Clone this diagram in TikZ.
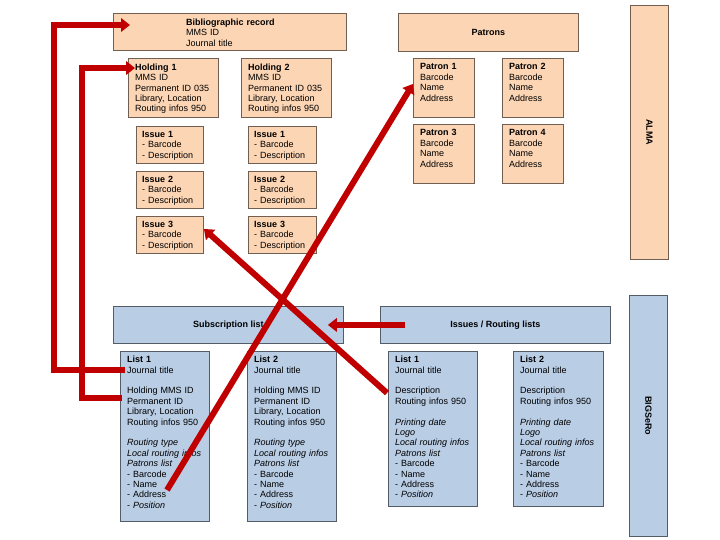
\documentclass[tikz,border=0pt]{standalone}
\usepackage{fontspec}
\setmainfont{Liberation Sans}
\usepackage{xcolor}
\definecolor{almafill}{RGB}{252,213,180}
\definecolor{bigfill}{RGB}{185,205,229}
\definecolor{arrred}{RGB}{192,0,0}
\usepackage{tikz}
\usetikzlibrary{arrows.meta, positioning}

\begin{document}
\begin{tikzpicture}[x=1pt, y=-1pt,
  pbox/.style={rectangle, draw=#1!45!black, fill=#1, line width=0.9pt,
               inner sep=0pt, anchor=north west},
  txt/.style={anchor=north west, align=left, inner sep=0pt, text width=#1,
              font=\fontsize{9pt}{10.4pt}\selectfont},
  txt/.default=80pt,
  ttl/.style={font=\fontsize{9pt}{10.4pt}\selectfont\bfseries, inner sep=0pt},
  redarr/.style={draw=arrred, line width=6pt, -{Triangle[length=9pt,width=13.5pt]}}
]
\useasboundingbox (0,0) rectangle (720,540);

% ALMA side
\node[pbox=almafill, minimum width=233pt, minimum height=37pt] (bib) at (113,13) {};
\node[txt=150pt] (bibt) at ([shift={(73pt,-5.5pt)}]bib.north west) {\textbf{Bibliographic record}\\MMS ID\\Journal title};
\node[pbox=almafill, minimum width=180pt, minimum height=38pt] (pat) at (398,13) {};
\node[ttl] (patt) at (pat.center) {Patrons};
\node[pbox=almafill, minimum width=38pt, minimum height=254pt] (alma) at (630,5) {};
\node[ttl, rotate=-90] (almat) at (alma.center) {ALMA};

% Holdings
\node[pbox=almafill, minimum width=90pt, minimum height=59pt] (h1) at (128,58) {};
\node[txt] (h1t) at ([shift={(7pt,-5.5pt)}]h1.north west) {\textbf{Holding 1}\\MMS ID\\Permanent ID 035\\Library, Location\\Routing infos 950};
\node[pbox=almafill, minimum width=90pt, minimum height=59pt] (h2) at (241,58) {};
\node[txt] (h2t) at ([shift={(7pt,-5.5pt)}]h2.north west) {\textbf{Holding 2}\\MMS ID\\Permanent ID 035\\Library, Location\\Routing infos 950};

% Issues
\foreach \n/\y in {1/126, 2/171, 3/216} {
  \node[pbox=almafill, minimum width=67pt, minimum height=37pt] (il\n) at (136,\y) {};
  \node[txt=62pt] (il\n t) at ([shift={(6pt,-5pt)}]il\n.north west) {\textbf{Issue \n}\\- Barcode\\- Description};
  \node[pbox=almafill, minimum width=68pt, minimum height=37pt] (ir\n) at (248,\y) {};
  \node[txt=62pt] (ir\n t) at ([shift={(6pt,-5pt)}]ir\n.north west) {\textbf{Issue \n}\\- Barcode\\- Description};
}

% Patrons
\foreach \n/\x/\y in {1/413/58, 2/502/58, 3/413/124, 4/502/124} {
  \node[pbox=almafill, minimum width=61pt, minimum height=59pt] (p\n) at (\x,\y) {};
  \node[txt=55pt] (p\n t) at ([shift={(7pt,-5.5pt)}]p\n.north west) {\textbf{Patron \n}\\Barcode\\Name\\Address};
}

% BIGSeRo side
\node[pbox=bigfill, minimum width=230pt, minimum height=37pt] (sub) at (113,306) {};
\node[ttl] (subt) at (sub.center) {Subscription list};
\node[pbox=bigfill, minimum width=230pt, minimum height=37pt] (irl) at (380,306) {};
\node[ttl] (irlt) at (irl.center) {Issues / Routing lists};
\node[pbox=bigfill, minimum width=38pt, minimum height=241pt] (big) at (629,295) {};
\node[ttl, rotate=-90] (bigt) at (big.center) {BIGSeRo};

% Subscription lists
\node[pbox=bigfill, minimum width=89pt, minimum height=170pt] (sl1) at (120,351) {};
\node[txt] (sl1t) at ([shift={(7pt,-5pt)}]sl1.north west) {\textbf{List 1}\\Journal title\\[10.4pt]Holding MMS ID\\Permanent ID\\Library, Location\\Routing infos 950\\[10.4pt]\textit{Routing type}\\\textit{Local routing infos}\\\textit{Patrons list}\\- Barcode\\- Name\\- Address\\- \textit{Position}};
\node[pbox=bigfill, minimum width=89pt, minimum height=170pt] (sl2) at (247,351) {};
\node[txt] (sl2t) at ([shift={(7pt,-5pt)}]sl2.north west) {\textbf{List 2}\\Journal title\\[10.4pt]Holding MMS ID\\Permanent ID\\Library, Location\\Routing infos 950\\[10.4pt]\textit{Routing type}\\\textit{Local routing infos}\\\textit{Patrons list}\\- Barcode\\- Name\\- Address\\- \textit{Position}};

% Routing lists
\node[pbox=bigfill, minimum width=89pt, minimum height=155pt] (rl1) at (388,351) {};
\node[txt] (rl1t) at ([shift={(7pt,-5pt)}]rl1.north west) {\textbf{List 1}\\Journal title\\[10.4pt]Description\\Routing infos 950\\[10.4pt]\textit{Printing date}\\\textit{Logo}\\\textit{Local routing infos}\\\textit{Patrons list}\\- Barcode\\- Name\\- Address\\- \textit{Position}};
\node[pbox=bigfill, minimum width=90pt, minimum height=155pt] (rl2) at (513,351) {};
\node[txt] (rl2t) at ([shift={(7pt,-5pt)}]rl2.north west) {\textbf{List 2}\\Journal title\\[10.4pt]Description\\Routing infos 950\\[10.4pt]\textit{Printing date}\\\textit{Logo}\\\textit{Local routing infos}\\\textit{Patrons list}\\- Barcode\\- Name\\- Address\\- \textit{Position}};

% links
\coordinate (jt) at (125,370);
\coordinate (pid) at (122,398);
\coordinate (addr) at (167,490);
\coordinate (desc) at (387,393);
\draw[redarr] (jt) -- ++(-71,0) |- ([shift={(17pt,-12pt)}]bib.north west);
\draw[redarr] (pid) -- ++(-40,0) |- ([shift={(7pt,-10pt)}]h1.north west);
\draw[redarr] (addr) -- ([yshift=4pt]p1.west);
\draw[redarr] (desc) -- ([yshift=6pt]il3.east);
\draw[redarr] ([xshift=25pt]irl.west) -- ([xshift=-16pt]sub.east);
\end{tikzpicture}
\end{document}
